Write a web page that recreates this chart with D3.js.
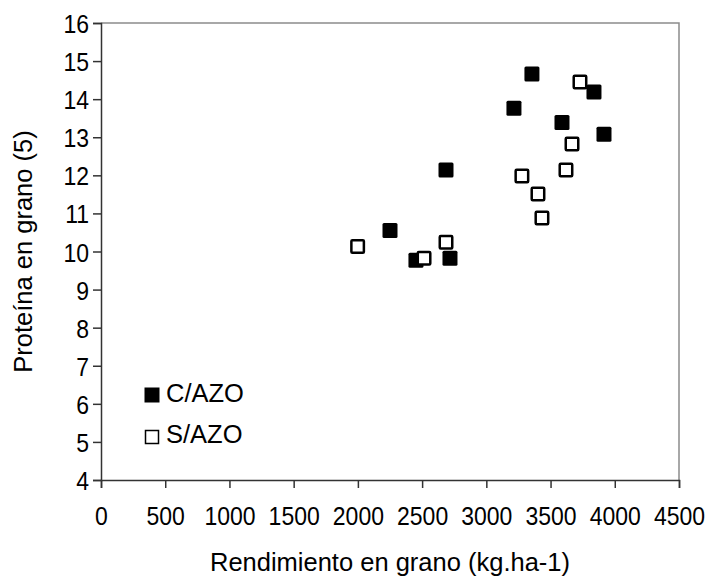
<!DOCTYPE html>
<html>
<head>
<meta charset="utf-8">
<script src="https://cdn.jsdelivr.net/npm/d3@7"></script>
<style>
  body { margin: 0; background: #fff; }
  text { font-family: "Liberation Sans", Arial, sans-serif; fill: #000; }
</style>
</head>
<body>
<svg id="chart" width="709" height="576"></svg>
<script>
// C/AZO (filled squares)
const conAzoX = [2250, 2452, 2717, 2686, 3215, 3355, 3589, 3838, 3916];
const conAzoY = [10.55, 9.77, 9.82, 12.14, 13.76, 14.66, 13.39, 14.19, 13.08];
// S/AZO (open squares)
const sinAzoX = [1998, 2515, 2686, 3277, 3402, 3433, 3620, 3667, 3729];
const sinAzoY = [10.13, 9.82, 10.24, 11.98, 11.51, 10.88, 12.14, 12.82, 14.45];

const xTicks = [0, 500, 1000, 1500, 2000, 2500, 3000, 3500, 4000, 4500];
const yTicks = [4, 5, 6, 7, 8, 9, 10, 11, 12, 13, 14, 15, 16];
const seriesNames = ["C/AZO", "S/AZO"];

const svg = d3.select("#chart");
const margin = { left: 101, top: 23, right: 30, bottom: 96 };
const W = 709, H = 576;

const x = d3.scaleLinear().domain([0, 4500]).range([margin.left, W - margin.right]);
const y = d3.scaleLinear().domain([4, 16]).range([H - margin.bottom, margin.top]);

// plot area border (top/right gray)
svg.append("path")
  .attr("d", `M${x(0)},${y(16)}H${x(4500)}V${y(4)}`)
  .attr("fill", "none")
  .attr("stroke", "#8c8c8c")
  .attr("stroke-width", 1.5);

const xAxis = svg.append("g")
  .attr("transform", `translate(0,${y(4)})`)
  .call(d3.axisBottom(x).tickValues(xTicks).tickSize(8).tickFormat(d3.format("d")));

const yAxis = svg.append("g")
  .attr("transform", `translate(${x(0)},0)`)
  .call(d3.axisLeft(y).tickValues(yTicks).tickSize(8).tickFormat(d3.format("d")));

[xAxis, yAxis].forEach(g => {
  g.select(".domain").attr("stroke", "#333").attr("stroke-width", 1.5);
  g.selectAll(".tick line").attr("stroke", "#333").attr("stroke-width", 1.5);
  g.selectAll(".tick text")
    .attr("fill", "#000")
    .attr("dy", null)
    .style("font-size", "23px")
    .style("font-family", "'Liberation Sans', Arial, sans-serif");
});
// tick labels are a bit taller than wide in the original
xAxis.selectAll(".tick text")
  .attr("y", 0)
  .attr("transform", "translate(0,45) scale(1,1.15)");
yAxis.selectAll(".tick text")
  .attr("x", 0)
  .attr("transform", "translate(-12,9.5) scale(1,1.15)");

// axis titles
svg.append("text")
  .attr("x", (x(0) + x(4500)) / 2)
  .attr("y", 571)
  .attr("text-anchor", "middle")
  .style("font-size", "25.5px")
  .text("Rendimiento en grano (kg.ha-1)");

svg.append("text")
  .attr("transform", `translate(32,${(y(4) + y(16)) / 2}) rotate(-90)`)
  .attr("text-anchor", "middle")
  .style("font-size", "25.5px")
  .text("Proteína en grano (5)");

const s = 15;
const filled = conAzoX.map((v, i) => ({ x: v, y: conAzoY[i] }));
const open = sinAzoX.map((v, i) => ({ x: v, y: sinAzoY[i] }));

svg.append("g").selectAll("rect").data(filled).join("rect")
  .attr("x", d => x(d.x) - s / 2)
  .attr("y", d => y(d.y) - s / 2)
  .attr("width", s).attr("height", s)
  .attr("rx", 1.5)
  .attr("fill", "#000");

svg.append("g").selectAll("rect").data(open).join("rect")
  .attr("x", d => x(d.x) - (s - 2.5) / 2)
  .attr("y", d => y(d.y) - (s - 2.5) / 2)
  .attr("width", s - 2.5).attr("height", s - 2.5)
  .attr("rx", 1)
  .attr("fill", "#fff")
  .attr("stroke", "#000")
  .attr("stroke-width", 2.5);

// legend
const legend = svg.append("g");
const legY = [395, 437];
const legBase = [402, 443];
seriesNames.forEach((name, i) => {
  const g = legend.append("g");
  if (i === 0) {
    g.append("rect").attr("x", 152 - 7.5).attr("y", legY[i] - 7.5).attr("width", 15).attr("height", 15).attr("fill", "#000");
  } else {
    g.append("rect").attr("x", 152 - 6.5).attr("y", legY[i] - 6.5).attr("width", 13).attr("height", 13)
      .attr("fill", "#fff").attr("stroke", "#000").attr("stroke-width", 1.5);
  }
  g.append("text")
    .attr("x", 166)
    .attr("y", legBase[i])
    .style("font-size", "25.5px")
    .text(name);
});
</script>
</body>
</html>
